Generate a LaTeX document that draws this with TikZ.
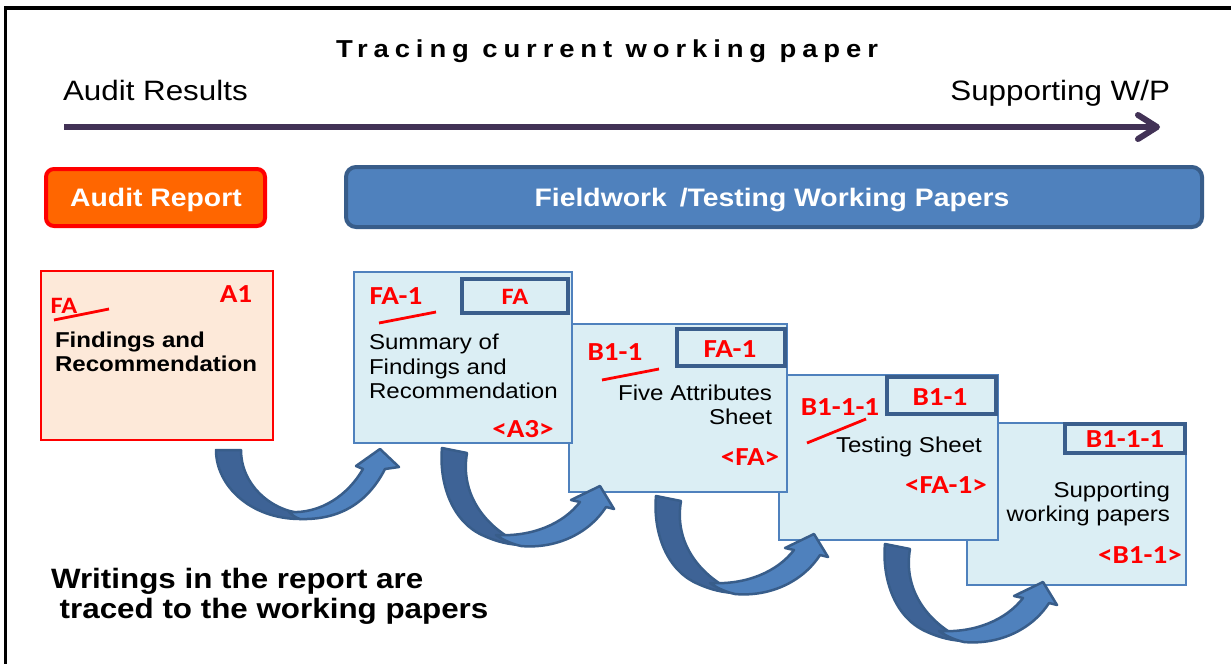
\documentclass[tikz,border=0pt]{standalone}
\usepackage{fontspec}
\setmainfont{Liberation Sans}[FakeStretch=1.12]
\newfontfamily\calS{Carlito}[FakeStretch=1.12]
\newfontfamily\titleF{Liberation Sans}[FakeStretch=1.12,LetterSpace=24]
\definecolor{axiscol}{RGB}{66,50,86}
\definecolor{auditorange}{RGB}{255,102,0}
\definecolor{fieldblue}{RGB}{79,129,189}
\definecolor{fieldline}{RGB}{56,93,138}
\definecolor{peach}{RGB}{253,233,217}
\definecolor{paperblue}{RGB}{219,238,244}
\definecolor{boxblue}{RGB}{79,129,189}
\definecolor{tabblue}{RGB}{58,94,140}
\definecolor{arrlight}{RGB}{79,129,189}
\definecolor{arrdark}{RGB}{62,99,150}
\definecolor{arrline}{RGB}{56,93,138}
\newcommand{\bigarrow}[1]{%
 \begin{scope}[shift={#1}]
  \path[arrowdark] (0,0) .. controls (-3,32) and (8,72) .. (40,87) .. controls (55,94) and (68,97) .. (82,97) -- (66,89) .. controls (36,70) and (19,40) .. (25,5) -- cycle;
  \path[arrowlight] (54,87) .. controls (90,89) and (121,76) .. (138,54) -- (129,52) -- (158,38) -- (172,61) -- (164,59) .. controls (146,87) and (112,101) .. (79,98) .. controls (70,96) and (61,92) .. (54,87) -- cycle;
 \end{scope}}
\begin{document}
\begin{tikzpicture}[x=1pt,y=-1pt,
  txt/.style={inner sep=0pt, outer sep=0pt},
  redlbl/.style={txt, text=red, font=\calS\bfseries\fontsize{26}{30}\selectfont, anchor=base},
  redsmall/.style={txt, text=red, font=\calS\bfseries\fontsize{23.5}{27}\selectfont, anchor=base},
  bodyL/.style={txt, font=\fontsize{21.5}{25}\selectfont, anchor=base west},
  bodyR/.style={txt, font=\fontsize{21.5}{25}\selectfont, anchor=base east},
  boldL/.style={txt, font=\bfseries\fontsize{21.5}{25}\selectfont, anchor=base west},
  bigtxt/.style={txt, font=\fontsize{28}{33}\selectfont},
  headtxt/.style={txt, text=white, font=\bfseries\fontsize{25.3}{29}\selectfont, anchor=base},
  boxbase/.style={rectangle, inner sep=0pt, outer sep=0pt, anchor=north west},
  paper/.style={boxbase, draw=boxblue, line width=2.2pt, fill=paperblue},
  tabbox/.style={boxbase, draw=tabblue, line width=4pt, fill=paperblue},
  slash/.style={draw=red, line width=2.8pt},
  axisline/.style={draw=axiscol, line width=6pt},
  arrowdark/.style={fill=arrdark, draw=arrline, line width=2.5pt, line join=round},
  arrowlight/.style={fill=arrlight, draw=arrline, line width=2.5pt, line join=round},
  frameline/.style={draw=black, line width=3.5pt}
]
\useasboundingbox (0,0) rectangle (1231,664);
\fill[white] (0,0) rectangle (1231,664);
% frame
\coordinate (fTL) at (5.5,8);
\coordinate (fTR) at (1231,8);
\coordinate (fBL) at (5.5,664);
\draw[frameline] (fTR) -- (fTL) -- (fBL);
% title and axis
\node[txt, font=\titleF\bfseries\fontsize{24.5}{29}\selectfont, anchor=base] (title) at (607,57) {Tracing current working paper};
\node[bigtxt, anchor=base west] (ares) at (63,100) {Audit Results};
\node[bigtxt, anchor=base east] (swp) at (1170,100) {Supporting W/P};
\coordinate (axL) at (64,127);
\coordinate (axR) at (1157,127);
\coordinate (axT1) at (1138,115);
\coordinate (axT2) at (1138,139);
\draw[axisline] (axL) -- (axR);
\draw[axisline, line cap=round, line join=round] (axT1) -- (axR) -- (axT2);
% header boxes
\node[boxbase, draw=red, line width=4pt, fill=auditorange, rounded corners=8pt, minimum width=219pt, minimum height=57pt] (arbox) at (46,169) {};
\node[headtxt] (artext) at (156,206) {Audit Report};
\node[boxbase, draw=fieldline, line width=4pt, fill=fieldblue, rounded corners=10pt, minimum width=856pt, minimum height=60pt] (fwbox) at (346,167) {};
\node[headtxt] (fwtext) at (772,206) {Fieldwork\hspace{5pt} /Testing Working Papers};
% A1 report page
\node[boxbase, draw=red, line width=2pt, fill=peach, minimum width=232pt, minimum height=169pt] (pa) at (41,271) {};
\node[redlbl] (paA1) at (236,302) {A1};
\node[redsmall] (paFA) at (64,313) {FA};
\draw[slash] (54,320) -- (109,309);
\node[boldL] (pa1) at (55,347) {Findings and};
\node[boldL] (pa2) at (55,371) {Recommendation};
% page 4
\node[paper, minimum width=219pt, minimum height=162pt] (p4) at (967,423) {};
\node[tabbox, minimum width=120pt, minimum height=29pt] (t4) at (1065,424) {};
\node[redlbl] (t4txt) at (1125,447) {B1-1-1};
\node[bodyR] (p4a) at (1170,497) {Supporting};
\node[bodyR] (p4b) at (1170,521) {working papers};
\node[redlbl] (p4ref) at (1140,563) {<B1-1>};
% page 3
\node[paper, minimum width=219pt, minimum height=165pt] (p3) at (779,375) {};
\node[tabbox, minimum width=109pt, minimum height=37pt] (t3) at (887,377) {};
\node[redlbl] (t3txt) at (940,405) {B1-1};
\node[redlbl] (p3id) at (840,415) {B1-1-1};
\draw[slash] (807,443) -- (866,419);
\node[bodyL] (p3a) at (836,452) {Testing Sheet};
\node[redlbl] (p3ref) at (946,493) {<FA-1>};
% page 2
\node[paper, minimum width=218pt, minimum height=168pt] (p2) at (569,324) {};
\node[tabbox, minimum width=108pt, minimum height=37pt] (t2) at (677,329) {};
\node[redlbl] (t2txt) at (730,357) {FA-1};
\node[redlbl] (p2id) at (615,360) {B1-1};
\draw[slash] (602,380) -- (659,369);
\node[bodyR] (p2a) at (772,400) {Five Attributes};
\node[bodyR] (p2b) at (772,424) {Sheet};
\node[redlbl] (p2ref) at (750,465) {<FA>};
% page 1
\node[paper, minimum width=218pt, minimum height=171pt] (p1) at (354,272) {};
\node[tabbox, minimum width=106pt, minimum height=34pt] (t1) at (462,279) {};
\node[redsmall] (t1txt) at (515,304) {FA};
\node[redlbl] (p1id) at (396,304) {FA-1};
\draw[slash] (379,323) -- (436,312);
\node[bodyL] (p1a) at (369,349) {Summary of};
\node[bodyL] (p1b) at (369,374) {Findings and};
\node[bodyL] (p1c) at (369,398) {Recommendation};
\node[redlbl] (p1ref) at (523,437) {<A3>};
% curved arrows
\begin{scope}[shift={(216,450)}]
  \path[arrowdark] (0,0) .. controls (0,36) and (35,69) .. (84,69) -- (84,63) .. controls (55,60) and (25,35) .. (25,0) -- cycle;
  \path[arrowlight] (73,62) .. controls (105,64) and (132,45) .. (147,19) -- (140,16) -- (164,-1) -- (183,17) -- (169,19) .. controls (150,56) and (120,70) .. (84,69) .. controls (80,68) and (76,65) .. (73,62) -- cycle;
\end{scope}
\bigarrow{(442,448)}
\bigarrow{(656,496)}
\bigarrow{(885,544)}
% bottom note
\node[txt, font=\bfseries\fontsize{28}{33}\selectfont, anchor=base west] (note1) at (51,588) {Writings in the report are};
\node[txt, font=\bfseries\fontsize{28}{33}\selectfont, anchor=base west] (note2) at (51,618) {\ traced to the working papers};
\end{tikzpicture}
\end{document}
